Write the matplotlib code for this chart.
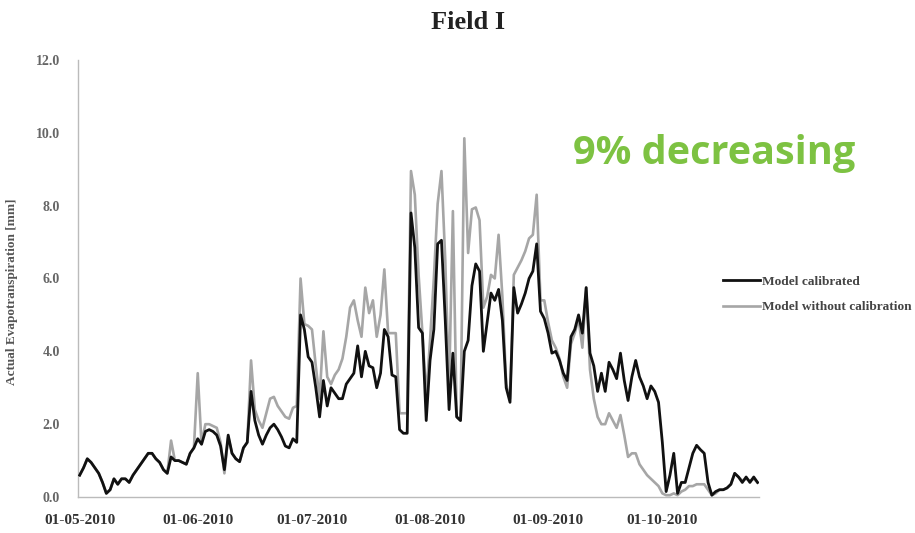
import numpy as np
import pandas as pd
import matplotlib
matplotlib.use("Agg")
import matplotlib.pyplot as plt
import matplotlib.dates as mdates

# ----------------------
# daily actual evapotranspiration [mm], from 01-05-2010
# ----------------------
start_date = "2010-05-01"

calibrated = [
    0.6, 0.8, 1.05, 0.95, 0.8, 0.65, 0.4, 0.1, 0.2, 0.5,
    0.35, 0.5, 0.5, 0.4, 0.6, 0.75, 0.9, 1.05, 1.2, 1.2,
    1.05, 0.95, 0.75, 0.65, 1.1, 1.0, 1.0, 0.95, 0.9, 1.2,
    1.35, 1.6, 1.45, 1.8, 1.85, 1.8, 1.7, 1.4, 0.75, 1.7,
    1.2, 1.05, 0.97, 1.35, 1.5, 2.9, 2.1, 1.7, 1.45, 1.7,
    1.9, 2.0, 1.85, 1.65, 1.4, 1.35, 1.6, 1.5, 5.0, 4.6,
    3.85, 3.7, 3.0, 2.2, 3.2, 2.5, 3.0, 2.85, 2.7, 2.7,
    3.1, 3.25, 3.4, 4.15, 3.3, 4.0, 3.6, 3.55, 3.0, 3.4,
    4.6, 4.4, 3.35, 3.3, 1.85, 1.75, 1.75, 7.8, 6.85, 4.65,
    4.5, 2.1, 3.75, 4.6, 6.95, 7.05, 4.85, 2.4, 3.95, 2.2,
    2.1, 4.0, 4.3, 5.8, 6.4, 6.2, 4.0, 4.8, 5.6, 5.4,
    5.7, 4.85, 3.0, 2.6, 5.75, 5.05, 5.3, 5.6, 6.0, 6.2,
    6.95, 5.1, 4.9, 4.5, 3.95, 4.0, 3.75, 3.4, 3.2, 4.4,
    4.6, 5.0, 4.5, 5.75, 3.95, 3.6, 2.9, 3.4, 2.9, 3.7,
    3.5, 3.25, 3.95, 3.2, 2.65, 3.3, 3.75, 3.3, 3.05, 2.7,
    3.05, 2.9, 2.6, 1.5, 0.15, 0.6, 1.2, 0.1, 0.4, 0.4,
    0.8, 1.2, 1.42, 1.3, 1.2, 0.4, 0.05, 0.15, 0.2, 0.2,
    0.25, 0.35, 0.65, 0.55, 0.4, 0.55, 0.4, 0.55, 0.4,
]

uncalibrated = [
    0.6, 0.8, 1.05, 0.95, 0.8, 0.65, 0.4, 0.1, 0.2, 0.5,
    0.35, 0.5, 0.5, 0.4, 0.6, 0.75, 0.9, 1.05, 1.2, 1.2,
    1.05, 0.95, 0.75, 0.65, 1.55, 1.0, 1.0, 0.95, 0.9, 1.2,
    1.35, 3.4, 1.45, 2.0, 2.0, 1.95, 1.9, 1.5, 0.65, 1.65,
    1.2, 1.05, 0.97, 1.35, 1.5, 3.75, 2.4, 2.1, 1.9, 2.3,
    2.7, 2.75, 2.5, 2.35, 2.2, 2.15, 2.45, 2.5, 6.0, 4.75,
    4.7, 4.6, 3.6, 2.7, 4.55, 3.3, 3.1, 3.35, 3.5, 3.8,
    4.4, 5.2, 5.4, 4.85, 4.4, 5.75, 5.05, 5.4, 4.4, 5.0,
    6.25, 4.5, 4.5, 4.5, 2.3, 2.3, 2.3, 8.95, 8.3, 6.1,
    4.5, 2.75, 4.3, 6.0, 8.05, 8.95, 6.5, 3.0, 7.85, 2.2,
    2.1, 9.85, 6.7, 7.9, 7.95, 7.6, 5.2, 5.5, 6.1, 6.0,
    7.2, 5.5, 3.1, 2.7, 6.1, 6.3, 6.5, 6.75, 7.1, 7.2,
    8.3, 5.4, 5.4, 4.8, 4.3, 4.1, 3.8, 3.3, 3.0, 4.2,
    4.5, 4.9, 4.1, 5.75, 3.5, 2.7, 2.2, 2.0, 2.0, 2.3,
    2.1, 1.9, 2.25, 1.7, 1.1, 1.2, 1.2, 0.9, 0.75, 0.6,
    0.5, 0.4, 0.3, 0.1, 0.05, 0.05, 0.1, 0.05, 0.15, 0.2,
    0.3, 0.3, 0.35, 0.35, 0.35, 0.2, 0.05, 0.1, 0.2, 0.2,
    0.25, 0.35, 0.65, 0.55, 0.45, 0.5, 0.45, 0.5, 0.4,
]

dates = pd.date_range(start_date, periods=len(calibrated), freq="D")

y_ticks = [0, 2, 4, 6, 8, 10, 12]
x_tick_dates = pd.to_datetime(["2010-05-01", "2010-06-01", "2010-07-01",
                               "2010-08-01", "2010-09-01", "2010-10-01"])

# ----------------------
# figure
# ----------------------
serif = ["Liberation Serif", "DejaVu Serif"]

fig = plt.figure(figsize=(9.15, 5.33), dpi=100)
ax = fig.add_axes([0.085, 0.0675, 0.745, 0.82])

ax.plot(dates, uncalibrated, color="#a6a6a6", lw=1.9,
        label="Model without calibration", zorder=2)
ax.plot(dates, calibrated, color="#111111", lw=2.0,
        label="Model calibrated", zorder=3)

ax.set_ylim(0, 12)
ax.set_xlim(dates[0] - pd.Timedelta(hours=12), dates[-1] + pd.Timedelta(hours=12))
ax.set_yticks(y_ticks)
ax.yaxis.set_major_formatter(matplotlib.ticker.FormatStrFormatter("%.1f"))
ax.set_xticks(x_tick_dates)
ax.xaxis.set_major_formatter(mdates.DateFormatter("%d-%m-%Y"))

for s in ["top", "right"]:
    ax.spines[s].set_visible(False)
for s in ["left", "bottom"]:
    ax.spines[s].set_color("#bbbbbb")
    ax.spines[s].set_linewidth(1.0)

ax.tick_params(axis="y", length=0, pad=13, labelsize=10, labelcolor="#666666")
ax.tick_params(axis="x", length=0, pad=12, labelsize=11, labelcolor="#333333")
for lab in ax.get_yticklabels() + ax.get_xticklabels():
    lab.set_family(serif)
    lab.set_fontweight("bold")

ax.set_ylabel("Actual Evapotranspiration [mm]", family=serif, fontweight="bold",
              fontsize=9.5, color="#555555", labelpad=14)
ax.yaxis.set_label_coords(-0.087, 0.47)

# legend to the right of the plot area
handles, labels = ax.get_legend_handles_labels()
leg = fig.legend(handles[::-1], labels[::-1], loc="center left",
                 bbox_to_anchor=(0.79, 0.4475), frameon=False,
                 borderaxespad=0, borderpad=0,
                 prop={"family": serif, "size": 9.6, "weight": "bold"},
                 handlelength=2.8, handletextpad=0.15, labelspacing=1.0)
for t in leg.get_texts():
    t.set_color("#444444")

fig.text(0.512, 0.957, "Field I", ha="center", va="center", family=serif,
         fontsize=19, fontweight="bold", color="#222222")

fig.text(0.626, 0.712, "9% decreasing", ha="left", va="center",
         family=["Open Sans", "DejaVu Sans"], fontsize=28.5, fontweight="bold",
         color="#7dc242")

fig.savefig("out.png", dpi=100)
